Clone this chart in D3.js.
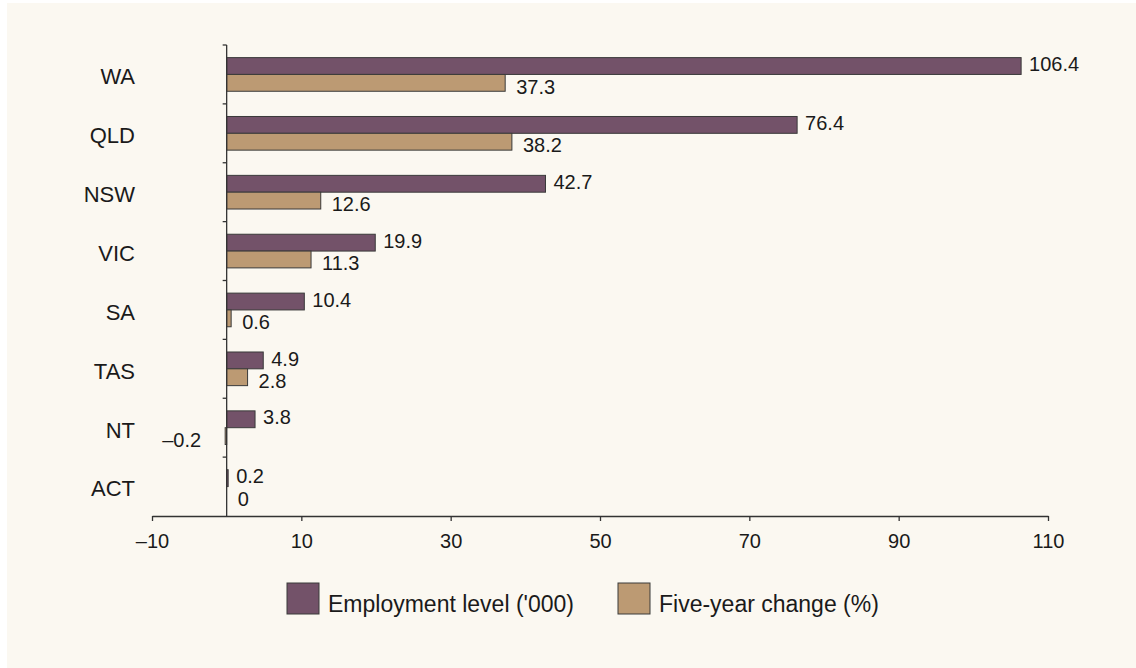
<!DOCTYPE html>
<html>
<head>
<meta charset="utf-8">
<script src="https://cdn.jsdelivr.net/npm/d3@7/dist/d3.min.js"></script>
<style>
  html, body { margin: 0; padding: 0; background: #ffffff; }
  svg { display: block; font-family: "Liberation Sans", Arial, sans-serif; }
</style>
</head>
<body>
<svg id="chart" width="1136" height="668"></svg>
<script>
// States and territories, top to bottom
const states = ["WA", "QLD", "NSW", "VIC", "SA", "TAS", "NT", "ACT"];
// Employment level ('000)
const employment = [106.4, 76.4, 42.7, 19.9, 10.4, 4.9, 3.8, 0.2];
// Five-year change (%)
const fiveYearChange = [37.3, 38.2, 12.6, 11.3, 0.6, 2.8, -0.2, 0];
const seriesNames = ["Employment level ('000)", "Five-year change (%)"];
const xTicks = [-10, 10, 30, 50, 70, 90, 110];

const colors = ["#735269", "#bc9a73"];
const series = [employment, fiveYearChange];

const svg = d3.select("#chart");

// cream panel
svg.append("rect")
  .attr("x", 7).attr("y", 3)
  .attr("width", 1136 - 7).attr("height", 668 - 3)
  .attr("fill", "#fbf8f1");

const x = d3.scaleLinear().domain([-10, 110]).range([152, 1048]);
const y = d3.scaleBand().domain(states).range([45, 516]).paddingInner(0).paddingOuter(0);
const ySub = d3.scaleBand().domain([0, 1]).range([0, y.bandwidth()])
  .paddingInner(0).paddingOuter(0.75);

const fmt = v => v === 0 ? "0" : (v < 0 ? "\u2013" + Math.abs(v) : String(v));

// bars
series.forEach((vals, si) => {
  const g = svg.append("g");
  g.selectAll("rect")
    .data(states.map((s, i) => ({ s, v: vals[i] })))
    .join("rect")
    .attr("x", d => x(Math.min(0, d.v)))
    .attr("y", d => y(d.s) + ySub(si))
    .attr("width", d => Math.max(Math.abs(x(d.v) - x(0)), 0))
    .attr("height", ySub.bandwidth())
    .attr("fill", colors[si])
    .attr("stroke", "#3a3a3a")
    .attr("stroke-width", 1);

  // value labels
  g.selectAll("text")
    .data(states.map((s, i) => ({ s, v: vals[i] })))
    .join("text")
    .attr("x", d => d.v < 0 ? x(d.v) - 24 : x(Math.max(d.v, 0)) + (si === 0 ? 8 : 11))
    .attr("y", d => y(d.s) + ySub(si) + ySub.bandwidth() / 2 + (si === 0 ? -2 : 3.5))
    .attr("dy", "0.36em")
    .attr("text-anchor", d => d.v < 0 ? "end" : "start")
    .attr("font-size", 20)
    .attr("fill", "#1a1a1a")
    .text(d => fmt(d.v));
});

// x axis
const xAxis = d3.axisBottom(x).tickValues(xTicks).tickSize(5).tickSizeOuter(0)
  .tickFormat(fmt);
const gx = svg.append("g").attr("transform", "translate(0,516)").call(xAxis);
gx.select(".domain").attr("stroke", "#333").attr("stroke-width", 1.3);
gx.selectAll(".tick line").attr("stroke", "#333").attr("stroke-width", 1.3);
gx.selectAll(".tick text").attr("font-size", 20).attr("fill", "#1a1a1a")
  .attr("font-family", "Liberation Sans, Arial, sans-serif").attr("dy", "1.2em");

// y axis line and category boundary ticks
const y0 = x(0);
svg.append("line")
  .attr("x1", y0).attr("x2", y0).attr("y1", 45).attr("y2", 516)
  .attr("stroke", "#333").attr("stroke-width", 1.3);
svg.append("g").selectAll("line")
  .data(states)
  .join("line")
  .attr("x1", y0 - 4).attr("x2", y0)
  .attr("y1", d => y(d)).attr("y2", d => y(d))
  .attr("stroke", "#333").attr("stroke-width", 1.3);

// category labels
svg.append("g").selectAll("text")
  .data(states)
  .join("text")
  .attr("x", 135)
  .attr("y", d => y(d) + y.bandwidth() / 2 + 2)
  .attr("dy", "0.36em")
  .attr("text-anchor", "end")
  .attr("font-size", 22)
  .attr("fill", "#1a1a1a")
  .text(d => d);

// legend
const legendX = [287, 618];
const legend = svg.append("g");
seriesNames.forEach((name, i) => {
  legend.append("rect")
    .attr("x", legendX[i]).attr("y", 583)
    .attr("width", 32).attr("height", 31)
    .attr("fill", colors[i]).attr("stroke", "#3a3a3a").attr("stroke-width", 1);
  legend.append("text")
    .attr("x", legendX[i] + 41).attr("y", 612)
    .attr("font-size", 23)
    .attr("fill", "#1a1a1a")
    .text(name);
});
</script>
</body>
</html>
